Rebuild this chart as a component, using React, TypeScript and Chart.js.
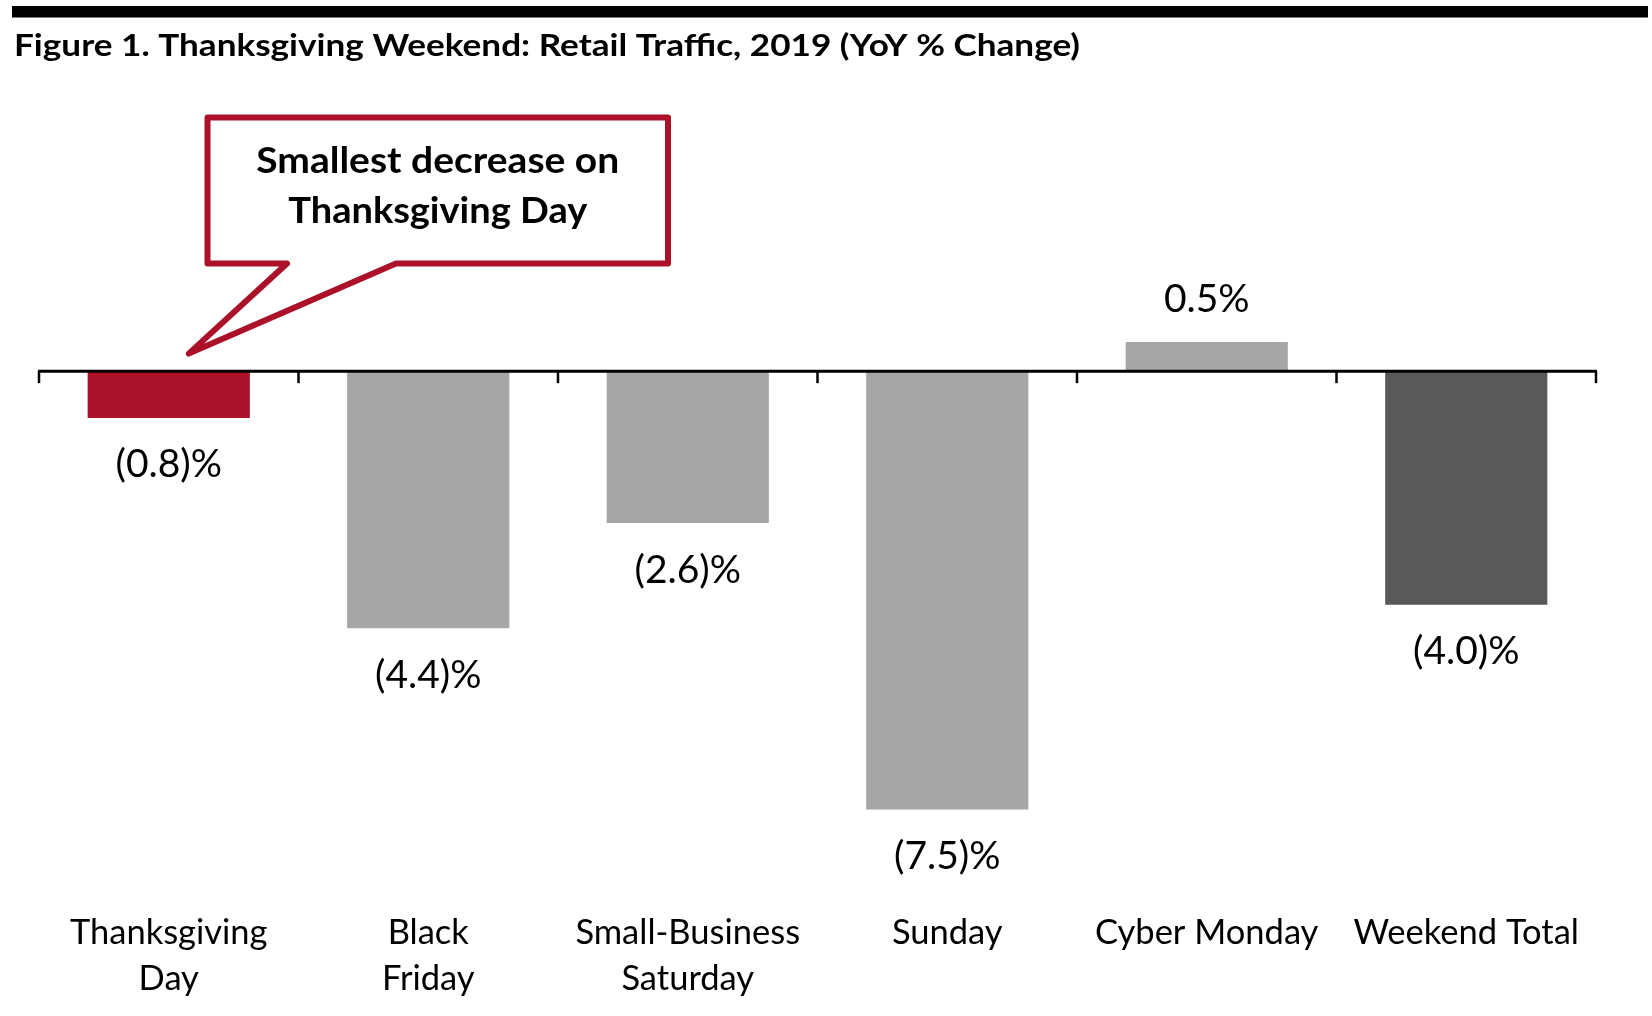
import React, { useEffect, useRef } from 'react';
import { Chart, registerables } from 'chart.js';

Chart.register(...registerables);

const categories: (string | string[])[] = [
  ['Thanksgiving', 'Day'],
  ['Black', 'Friday'],
  ['Small-Business', 'Saturday'],
  'Sunday',
  'Cyber Monday',
  'Weekend Total',
];
const values = [-0.8, -4.4, -2.6, -7.5, 0.5, -4.0];
const barColors = ['#AB1229', '#A6A6A6', '#A6A6A6', '#A6A6A6', '#A6A6A6', '#595959'];
const titleText = 'Figure 1. Thanksgiving Weekend: Retail Traffic, 2019 (YoY % Change)';
const calloutLines = ['Smallest decrease on', 'Thanksgiving Day'];
const yMin = -8;
const yMax = 4;

const RED = '#AB1229';
const FONT = 'Lato, "Open Sans", sans-serif';

function fmt(v: number) {
  return v < 0 ? `(${Math.abs(v).toFixed(1)})%` : `${v.toFixed(1)}%`;
}

// draw text horizontally scaled to a target width (emulates a narrow face)
function fillTextFit(ctx: CanvasRenderingContext2D, text: string, x: number, y: number, w: number, align: 'left' | 'center') {
  const m = ctx.measureText(text).width;
  const sx = w / m;
  ctx.save();
  ctx.textAlign = 'left';
  const startX = align === 'left' ? x : x - w / 2;
  ctx.translate(startX, y);
  ctx.scale(sx, 1);
  ctx.fillText(text, 0, 0);
  ctx.restore();
}

const decorPlugin = {
  id: 'decor',
  beforeDraw(chart: any) {
    const ctx = chart.ctx;
    ctx.save();
    ctx.fillStyle = '#ffffff';
    ctx.fillRect(0, 0, chart.width, chart.height);
    // top rule
    ctx.fillStyle = '#000000';
    ctx.fillRect(12, 6, 1636, 11.5);
    // title
    ctx.font = `bold 31px ${FONT}`;
    ctx.textBaseline = 'alphabetic';
    fillTextFit(ctx, titleText, 14, 55.5, 1066, 'left');
    ctx.restore();
  },
  afterDatasetsDraw(chart: any) {
    const ctx = chart.ctx;
    const x = chart.scales.x;
    const y = chart.scales.y;
    const area = chart.chartArea;
    const y0 = y.getPixelForValue(0);
    const half = (x.getPixelForValue(1) - x.getPixelForValue(0)) / 2;
    ctx.save();
    // zero axis line
    ctx.strokeStyle = '#000000';
    ctx.lineWidth = 3;
    ctx.beginPath();
    ctx.moveTo(area.left - 1, y0);
    ctx.lineTo(area.right + 1, y0);
    ctx.stroke();
    // tick marks at category boundaries
    ctx.lineWidth = 2.5;
    for (let i = 0; i <= categories.length; i++) {
      const px = x.getPixelForValue(0) - half + i * 2 * half;
      ctx.beginPath();
      ctx.moveTo(px, y0);
      ctx.lineTo(px, y0 + 12);
      ctx.stroke();
    }
    // data labels
    const meta = chart.getDatasetMeta(0);
    ctx.font = `39px ${FONT}`;
    ctx.fillStyle = '#000000';
    ctx.textAlign = 'center';
    ctx.textBaseline = 'middle';
    meta.data.forEach((bar: any, i: number) => {
      const v = values[i];
      const ly = v < 0 ? bar.y + 47 : bar.y - 42;
      ctx.fillText(fmt(v), bar.x, ly);
    });

    // callout
    const tipX = x.getPixelForValue(0) + 20;
    const tipY = y.getPixelForValue(0.3);
    const L = 207.5, R = 668, T = 117.5, B = 263.5;
    ctx.beginPath();
    ctx.moveTo(L, T);
    ctx.lineTo(R, T);
    ctx.lineTo(R, B);
    ctx.lineTo(396, B);
    ctx.lineTo(tipX, tipY);
    ctx.lineTo(287, B);
    ctx.lineTo(L, B);
    ctx.closePath();
    ctx.fillStyle = '#ffffff';
    ctx.fill();
    ctx.lineWidth = 6;
    ctx.lineJoin = 'round';
    ctx.strokeStyle = RED;
    ctx.stroke();
    ctx.fillStyle = '#000000';
    ctx.font = `bold 36px ${FONT}`;
    ctx.textBaseline = 'alphabetic';
    fillTextFit(ctx, calloutLines[0], (L + R) / 2, 173, 363, 'center');
    fillTextFit(ctx, calloutLines[1], (L + R) / 2, 223, 299, 'center');
    ctx.restore();
  },
};

export default function App() {
  const ref = useRef<HTMLCanvasElement | null>(null);
  useEffect(() => {
    if (!ref.current) return;
    const chart = new Chart(ref.current, {
      type: 'bar',
      data: {
        labels: categories as any,
        datasets: [
          {
            data: values,
            backgroundColor: barColors,
            borderWidth: 0,
            barPercentage: 0.625,
            categoryPercentage: 1,
          },
        ],
      },
      options: {
        animation: false,
        responsive: false,
        maintainAspectRatio: false,
        layout: { padding: { left: 39, right: 56, top: 137.4, bottom: 0 } },
        plugins: {
          legend: { display: false },
          tooltip: { enabled: false },
          title: { display: false },
        },
        scales: {
          x: {
            offset: true,
            grid: { display: false, drawTicks: false },
            border: { display: false },
            ticks: {
              padding: 72,
              color: '#000000',
              maxRotation: 0,
              autoSkip: false,
              font: { family: FONT, size: 34.5, lineHeight: 1.32 },
            },
            afterFit(scale: any) {
              scale.height = 1016 - 838.6;
              scale.paddingLeft = 0;
              scale.paddingRight = 0;
            },
          },
          y: {
            display: false,
            min: yMin,
            max: yMax,
            grid: { display: false },
          },
        },
      },
      plugins: [decorPlugin],
    });
    return () => chart.destroy();
  }, []);
  return (
    <div style={{ position: 'absolute', left: 0, top: 0, width: 1652, height: 1016, background: '#fff' }}>
      <canvas ref={ref} width={1652} height={1016} />
    </div>
  );
}
